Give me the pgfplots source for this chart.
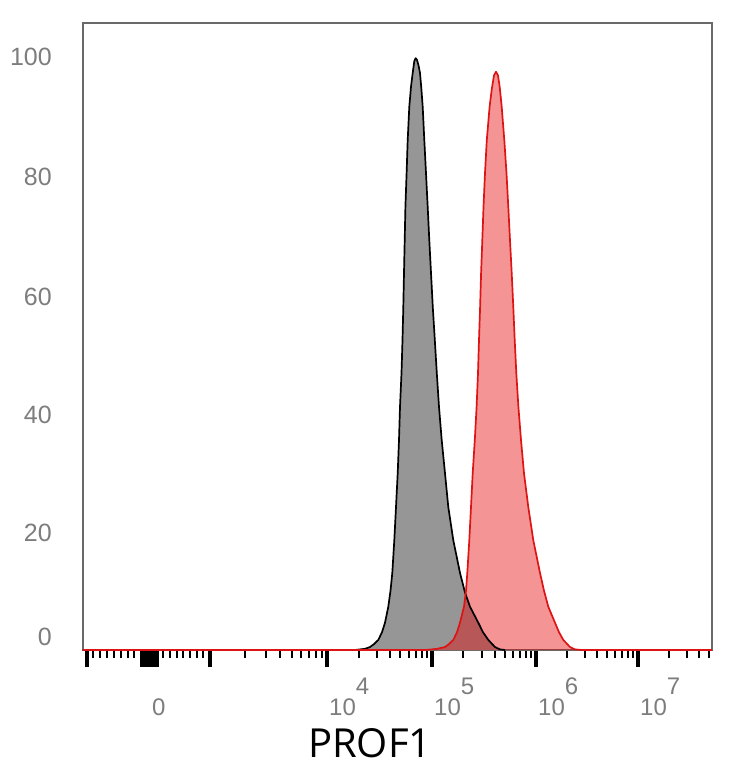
\documentclass[border=0pt]{standalone}
\usepackage{pgfplots}
\usepackage{pgfplotstable}
\pgfplotsset{compat=1.18}
\usepackage{fontspec}
\setmainfont{Liberation Sans}
\newfontfamily\labelfont{Open Sans}
\definecolor{ticklab}{RGB}{125,125,125}
\definecolor{framec}{RGB}{105,105,105}
\definecolor{fillgray}{RGB}{150,150,150}
\definecolor{redline}{RGB}{222,20,20}
\definecolor{redfill}{RGB}{230,0,0}

\pgfplotstableread{
x y
83 0
355 0
360 0.1
365 0.2
370 0.5
374 1.0
378.3 1.7
382 3.0
385 4.6
388.3 7.3
390.5 10.0
392.3 13.0
394.3 18.5
396 24.1
397.7 29.8
399 35.4
400 41.0
401.5 46.7
402.5 52.3
403.3 57.8
404 63.6
404.7 69.1
405.4 74.7
406.6 80.4
407.7 86.0
409.3 91.6
411 95.0
412.7 97.3
414.3 99.3
415.7 99.8
417 99.5
418.5 98.6
420 97.3
421.3 94.8
422.7 91.6
424.3 86.0
426 80.4
427.7 74.7
429.3 69.1
431 63.6
432.8 57.8
434.8 52.3
436.8 46.7
439 41.0
441.7 35.4
445 29.8
448.3 24.1
453.3 18.5
460 13.0
465 9.7
470 7.3
478.3 4.6
483 3.0
488.3 1.7
495 0.5
500 0.1
505 0
}\blackdata

\pgfplotstableread{
x y
83 0
425 0
432 0.1
437 0.2
445 0.5
449 1.0
453.3 1.7
457 3.0
460 4.6
464 7.3
466 10.0
467.3 13.0
469.3 18.5
471 24.1
472.7 29.8
474.8 35.4
476.6 41.0
478 46.7
479 52.3
480.1 57.8
481.1 63.6
482.3 69.1
483.5 74.7
485 80.4
486.8 86.0
489.6 91.6
491.8 94.6
494 96.9
496 97.5
498 96.9
499.8 94.8
501.7 91.6
504.3 86.0
506.5 80.4
508.3 74.7
510 69.1
511.7 63.6
513.3 57.8
514.7 52.3
516.3 46.7
518.4 41.0
521 35.4
524 29.8
528.3 24.1
533.3 18.5
540 13.0
544 10.0
548.3 7.3
555 4.6
559 3.0
563.3 1.7
570 0.5
575 0.1
582 0
712 0
}\reddata

\begin{document}
\begin{tikzpicture}
\begin{axis}[
  name=ax,
  scale only axis,
  width=629pt, height=627pt,
  xmin=83, xmax=712, ymin=0, ymax=105.73,
  axis line style={framec, line width=1.5pt},
  tick align=outside,
  xtick pos=bottom, ytick pos=left,
  xtick={87,142,146,150,154,157,210,327,432,536,638},
  xticklabels={{},{},{},0,{},{},{},{10\raisebox{21pt}{4}},{10\raisebox{21pt}{5}},{10\raisebox{21pt}{6}},{10\raisebox{21pt}{7}}},
  xticklabel style={font=\fontsize{24}{28}\selectfont, text=ticklab, anchor=base west, inner sep=0pt, xshift=2pt, yshift=-48.5pt},
  major tick length=17pt,
  major tick style={line width=3.2pt, black},
  ytick={2.2,19.7,39.6,59.5,79.8,100},
  yticklabels={0,20,40,60,80,100},
  ytick style={draw=none},
  yticklabel style={font=\fontsize{25}{30}\selectfont, text=ticklab, anchor=east, inner sep=0pt, xshift=-14pt},
  minor xtick={93,100,107,114,121,128,134,163,170,177,183,190,197,203,
    245,266,280,292,301,309,316,322,
    359,377,390,400,409,416,422,427,
    463,482,495,505,513,520,526,531,
    567,585,597,607,615,622,628,633,
    669,687,699,709},
  minor tick length=8pt,
  minor tick style={line width=1.4pt, black},
  xlabel={PROF1},
  xlabel style={font=\labelfont\fontsize{40}{48}\selectfont, text=black, anchor=base, at={(axis description cs:0.456,0)}, yshift=-107pt},
  clip=false,
]
\addplot[draw=none, fill=fillgray] table[x=x,y=y]{\blackdata} \closedcycle;
\addplot[draw=none, fill=redfill, fill opacity=0.42] table[x=x,y=y]{\reddata} \closedcycle;
\addplot[black, line width=1.7pt, line join=round] table[x=x,y=y]{\blackdata};
\addplot[redline, line width=1.7pt, line join=round] table[x=x,y=y]{\reddata};
\end{axis}
\pgfresetboundingbox
\path[use as bounding box] ([xshift=-83pt,yshift=-118pt]ax.south west) rectangle ([xshift=22pt,yshift=23pt]ax.north east);
\end{tikzpicture}
\end{document}
